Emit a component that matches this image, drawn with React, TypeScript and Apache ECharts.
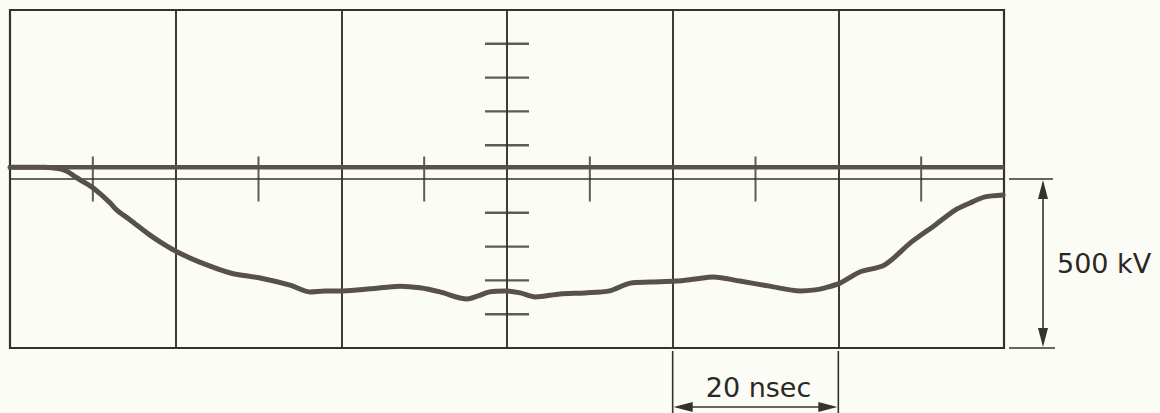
import React, { useEffect, useRef } from "react";
import * as echarts from "echarts";

// time axis (ns) and voltage (kV)
const timeNs = [0, 4.2, 6.0, 7.0, 7.9, 8.7, 9.9, 10.9, 12.1, 12.9, 14.5, 16.9, 18.7, 20.2, 22.9, 26.6, 30.2, 33.8, 36.2, 38.0, 40.2, 43.5, 47.1, 49.5, 51.9, 55.2, 56.5, 57.9, 59.8, 61.6, 63.4, 66.4, 69.4, 72.4, 74.9, 77.3, 80.4, 82.7, 84.9, 88.1, 91.7, 95.4, 97.2, 98.4, 100.2, 102.6, 105.6, 108.7, 111.7, 114.1, 115.9, 117.7, 119.9];
const traceKV = [35, 35, 30, 21, 6, -6, -24, -44, -71, -92, -121, -166, -195, -216, -246, -278, -293, -314, -334, -331, -331, -325, -317, -322, -334, -355, -346, -334, -331, -337, -349, -340, -337, -331, -308, -305, -302, -296, -290, -302, -317, -331, -328, -322, -308, -275, -254, -189, -136, -92, -71, -53, -47];
const baselineTimes = [0, 120];
const baselineKV = [35, 35];
// graticule
const xMin = 0, xMax = 120, xStep = 20;
const yMin = -500, yMax = 500, yStep = 500;
const centerTickTimes = [10, 30, 50, 70, 90, 110];
const centerTickKV = [-400, -300, -200, -100, 100, 200, 300, 400];
const voltLabel = "500 kV";
const timeLabel = "20 nsec";

const INK = "#37322e";
const TRACE = "#58504a";

export default function App() {
  const ref = useRef<HTMLDivElement>(null);
  useEffect(() => {
    if (!ref.current) return;
    const chart = echarts.init(ref.current, null, { renderer: "svg" });
    const gridLeft = 10, gridTop = 10, gridRight = 156, gridBottom = 65;
    const W = 1160, H = 413;
    const x0 = gridLeft, x1 = W - gridRight, y0 = gridTop, y1 = H - gridBottom;
    const yMid = (y0 + y1) / 2;
    const divW = (x1 - x0) / 6;
    const tx0 = x0 + divW * 4, tx1 = x0 + divW * 5;
    const ax = 1043;
    const lineStyle = { stroke: INK, lineWidth: 1.6 };
    const font = "27px 'DejaVu Sans'";
    chart.setOption({
      animation: false,
      backgroundColor: "#fcfcf6",
      grid: { left: gridLeft, top: gridTop, right: gridRight, bottom: gridBottom, show: true, borderColor: INK, borderWidth: 2.2, backgroundColor: "transparent" },
      xAxis: {
        type: "value", min: xMin, max: xMax, interval: xStep,
        axisLine: { show: false }, axisTick: { show: false }, axisLabel: { show: false },
        splitLine: { show: true, lineStyle: { color: INK, width: 1.9 } },
      },
      yAxis: {
        type: "value", min: yMin, max: yMax, interval: yStep,
        axisLine: { show: false }, axisTick: { show: false }, axisLabel: { show: false },
        splitLine: { show: true, lineStyle: { color: INK, width: 1.5 } },
      },
      series: [
        {
          type: "scatter", silent: true, symbol: "rect", symbolSize: [2, 45],
          itemStyle: { color: INK },
          data: centerTickTimes.map((t) => [t, 0]),
        },
        {
          type: "scatter", silent: true, symbol: "rect", symbolSize: [44, 2.4],
          itemStyle: { color: INK },
          data: centerTickKV.map((v) => [(xMin + xMax) / 2, v]),
        },
        {
          type: "line", silent: true, showSymbol: false,
          lineStyle: { color: TRACE, width: 4.5 },
          data: baselineTimes.map((t, i) => [t, baselineKV[i]]),
        },
        {
          type: "line", silent: true, showSymbol: false, smooth: 0.3,
          lineStyle: { color: TRACE, width: 5, cap: "round", join: "round" },
          data: timeNs.map((t, i) => [t, traceKV[i]]),
        },
      ],
      graphic: [
        // 500 kV dimension
        { type: "line", shape: { x1: 1009, y1: yMid, x2: 1053, y2: yMid }, style: lineStyle },
        { type: "line", shape: { x1: 1009, y1: y1, x2: 1055, y2: y1 }, style: lineStyle },
        { type: "line", shape: { x1: ax, y1: yMid + 4, x2: ax, y2: y1 - 4 }, style: lineStyle },
        { type: "polygon", shape: { points: [[ax, yMid + 1], [ax - 5, yMid + 20], [ax + 5, yMid + 20]] }, style: { fill: INK } },
        { type: "polygon", shape: { points: [[ax, y1 - 1], [ax - 5, y1 - 20], [ax + 5, y1 - 20]] }, style: { fill: INK } },
        { type: "text", x: 1057, y: (yMid + y1) / 2, style: { text: voltLabel, fill: "#2b2724", font, verticalAlign: "middle", align: "left" } },
        // 20 nsec dimension
        { type: "line", shape: { x1: tx0, y1: y1 + 3, x2: tx0, y2: 413 }, style: lineStyle },
        { type: "line", shape: { x1: tx1, y1: y1 + 3, x2: tx1, y2: 413 }, style: lineStyle },
        { type: "line", shape: { x1: tx0 + 4, y1: 407, x2: tx1 - 4, y2: 407 }, style: lineStyle },
        { type: "polygon", shape: { points: [[tx0 + 1, 407], [tx0 + 20, 402], [tx0 + 20, 412]] }, style: { fill: INK } },
        { type: "polygon", shape: { points: [[tx1 - 1, 407], [tx1 - 20, 402], [tx1 - 20, 412]] }, style: { fill: INK } },
        { type: "text", x: (tx0 + tx1) / 2 + 3, y: 387, style: { text: timeLabel, fill: "#2b2724", font, verticalAlign: "middle", align: "center" } },
      ],
    });
    return () => chart.dispose();
  }, []);
  return <div ref={ref} style={{ position: "absolute", left: 0, top: 0, width: 1160, height: 413 }} />;
}
